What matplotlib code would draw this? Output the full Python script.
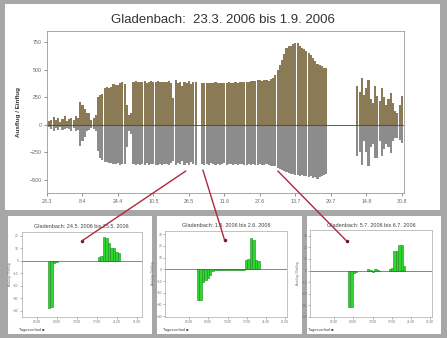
import matplotlib.pyplot as plt
from matplotlib.patches import Rectangle, ConnectionPatch

plt.rcParams['font.family'] = ['Liberation Sans', 'DejaVu Sans']

# Tageswerte Gladenbach, Tag 0 = 23.3.2006
ausflug = [
    15, 30, 45, 70, 40, 60, 25, 55, 75, 35, 50, 65, 40, 80, 60,
    210, 180, 140, 105, 110, 45, 60, 90,
    250, 270, 280, 330, 340, 335, 345, 370, 365, 360, 375, 390, 370,
    180, 90, 110,
    390, 395, 385, 392, 388, 395, 380, 390, 393, 386, 390, 395, 388, 392, 385, 390, 395, 380,
    245, 410,
    380, 385, 350, 390, 375, 395, 370, 385, 390,
    0, 0,
    375, 380, 378, 382, 376, 380, 385, 378, 380, 383, 377, 380, 385, 382, 380, 386, 383,
    388, 385, 390, 392, 388, 395, 400, 398, 402, 405, 400, 405, 410, 400, 415, 425,
    450, 500, 545, 590, 640, 700, 715, 720, 735, 745, 740, 715, 700, 690, 670, 650, 630,
    610, 580, 550, 540, 530, 520, 515,
    0, 0, 0, 0, 0, 0, 0, 0, 0, 0, 0, 0, 0,
    350, 300, 425, 273, 330, 405, 230, 197, 350, 260, 220, 333, 250, 180, 230, 290, 200,
    125, 110, 180, 260,
]
einflug = [
    -10, -25, -40, -55, -30, -45, -20, -50, -40, -30, -35, -55, -30, -60, -45,
    -195, -150, -110, -60, -50, -30, -40, -55,
    -240, -300, -320, -335, -340, -350, -345, -355, -360, -345, -365, -360, -355,
    -200, -60, -80,
    -360, -365, -355, -368, -360, -362, -350, -365, -360, -358, -366, -362, -355, -364, -360, -358, -365, -350,
    -330, -365,
    -345, -360, -330, -365, -350, -362, -340, -358, -365,
    0, 0,
    -355, -362, -358, -365, -350, -360, -366, -355, -362, -360, -352, -365, -360, -358, -363, -355, -365,
    -360, -358, -366, -362, -355, -365, -360, -368, -362, -358, -365, -370, -360, -368, -372, -375,
    -380, -390, -400, -410, -420, -430, -440, -445, -450, -455, -460, -465, -460, -470, -465, -480, -470,
    -485, -475, -490, -480, -470, -460, -450,
    0, 0, 0, 0, 0, 0, 0, 0, 0, 0, 0, 0, 0,
    -285, -250, -365, -150, -250, -375, -200, -180, -300, -300, -150, -285, -220, -180, -200, -255, -150,
    -120, -120, -140, -165,
]
tage = list(range(len(ausflug)))

datum_ticks = [0, 16, 32, 48, 64, 80, 96, 112, 128, 144, 160]
datum_labels = ['23.3', '8.4', '24.4', '10.5', '26.5', '11.6', '27.6', '13.7', '29.7', '14.8', '30.8']
y_ticks = [-500, -250, 0, 250, 500, 750]

# Tagesausschnitte (Stunde, Wert)
titel_1 = 'Gladenbach: 24.5. 2006 bis 25.5. 2006'
stunden_1 = [7.5, 8.0, 8.5, 9.0, 17.5, 18.0, 18.5, 19.0, 19.5, 20.0, 20.5, 21.0, 21.5]
werte_1 = [-37.8, -36.5, -1.6, -0.8, 3.4, 4.0, 19.4, 18.0, 14.0, 10.4, 10.4, 7.0, 6.0]

titel_2 = 'Gladenbach: 1.6. 2006 bis 2.6. 2006'
stunden_2 = [6.9, 7.4, 7.9, 8.4, 8.9, 9.4, 9.9, 10.4, 10.9, 11.4, 11.9, 12.4, 12.9, 13.4,
             13.9, 14.4, 14.9, 15.4, 15.9, 16.4, 16.9, 17.4, 17.9, 18.4, 18.9, 19.4]
werte_2 = [-26.2, -26.0, -11.0, -9.0, -7.5, -5.0, -1.5, -1.0, -0.8, -1.0, -0.6, -1.0, -0.8, -0.7,
           -1.0, -0.9, -0.8, -1.0, -0.6, -0.5, 8.0, 8.5, 26.4, 25.0, 8.0, 7.5]

titel_3 = 'Gladenbach: 5.7. 2006 bis 6.7. 2006'
stunden_3 = [8.1, 8.6, 9.1, 9.6, 12.1, 12.6, 13.1, 13.6, 14.1, 14.6,
             16.6, 17.1, 17.6, 18.1, 18.6, 19.1, 19.6]
werte_3 = [-31.0, -31.0, -2.0, -1.1, 1.0, 0.6, -0.8, 1.0, 0.7, -0.5,
           1.5, 2.0, 16.5, 16.5, 22.0, 22.0, 4.0]

uhr_ticks = [5, 9, 13, 17, 21, 25]
uhr_labels = ['05:00', '09:00', '13:00', '17:00', '21:00', '01:00']

W, H = 447, 338
fig = plt.figure(figsize=(W / 100, H / 100), dpi=100)
fig.set_facecolor('#a7a7a7')


def px_rect(x0, y0, x1, y1):
    return [x0 / W, 1 - y1 / H, (x1 - x0) / W, (y1 - y0) / H]


# weisse Felder
for x0, y0, x1, y1 in [(5, 4, 440, 210), (8, 216, 152, 334), (157, 216, 302, 334), (307, 216, 441, 334)]:
    l, b, w, h = px_rect(x0, y0, x1, y1)
    fig.add_artist(Rectangle((l, b), w, h, transform=fig.transFigure,
                             facecolor='white', edgecolor='none', zorder=0))

# Hauptdiagramm
ax = fig.add_axes(px_rect(47, 31, 404, 193))
ax.bar(tage, ausflug, width=0.95, color='#8b7a56', linewidth=0)
ax.bar(tage, einflug, width=0.95, color='#8c8c8c', linewidth=0)
ax.axhline(0, color='#444444', lw=0.6)
ax.set_xlim(0, 161)
ax.set_ylim(-621, 852)
ax.set_xticks(datum_ticks)
ax.set_xticklabels(datum_labels)
ax.set_yticks(y_ticks)
ax.tick_params(labelsize=3.8, colors='#666666', length=2, width=0.5, pad=2)
for s in ax.spines.values():
    s.set_color('#999999')
    s.set_linewidth(0.6)
ax.set_ylabel('Ausflug / Einflug', fontsize=4.5, color='#333333', fontweight='bold', labelpad=6)
fig.text(223 / W, 1 - 20 / H, 'Gladenbach:  23.3. 2006 bis 1.9. 2006',
         ha='center', va='center', fontsize=9.5, color='#333333')

# Tagesausschnitte
ausschnitte = [
    (px_rect(21.7, 231.7, 141.7, 316.7), (2, 26), (-44.6, 23.4), titel_1, stunden_1, werte_1),
    (px_rect(165, 230.7, 286.7, 316.7), (0, 25.3), (-40.5, 33), titel_2, stunden_2, werte_2),
    (px_rect(310, 230, 431.7, 317), (0, 25.3), (-40, 35), titel_3, stunden_3, werte_3),
]
inset_axes = []
for rect, xlim, ylim, titel, stunden, werte in ausschnitte:
    a = fig.add_axes(rect)
    a.bar(stunden, werte, width=0.5, color='#2fd62f', edgecolor='#1e8a1e', linewidth=0.4)
    a.axhline(0, color='#555555', lw=0.5)
    a.set_xlim(*xlim)
    a.set_ylim(*ylim)
    a.set_xticks(uhr_ticks)
    a.set_xticklabels(uhr_labels)
    a.set_yticks(range(-40, int(ylim[1]) + 1, 10))
    a.tick_params(labelsize=2.3, colors='#777777', length=1.2, width=0.4, pad=1)
    for s in a.spines.values():
        s.set_color('#aaaaaa')
        s.set_linewidth(0.5)
    a.set_title(titel, fontsize=4.0, color='#444444', pad=2.5)
    a.set_ylabel('Ausflug / Einflug', fontsize=2.3, color='#666666', labelpad=1)
    a.text(-0.02, -0.13, 'Tagesverlauf \u25a0', transform=a.transAxes, fontsize=2.8,
           color='#444444', ha='left', va='top')
    inset_axes.append(a)

# Verbindungslinien vom Hauptdiagramm zu den Ausschnitten
verbindungen = [((62.6, -421), (0.50, 0.89)), ((70.3, -412), (0.49, 0.89)), ((104.1, -421), (0.30, 0.875))]
for a, (start, ende) in zip(inset_axes, verbindungen):
    con = ConnectionPatch(xyA=start, coordsA='data', axesA=ax,
                          xyB=ende, coordsB='axes fraction', axesB=a,
                          color='#b0283c', lw=1.0, zorder=10)
    fig.add_artist(con)
    a.plot([ende[0]], [ende[1]], 'o', transform=a.transAxes, ms=1.5, color='#5a1a20', clip_on=False)

fig.savefig('out.png', dpi=100, facecolor=fig.get_facecolor())
